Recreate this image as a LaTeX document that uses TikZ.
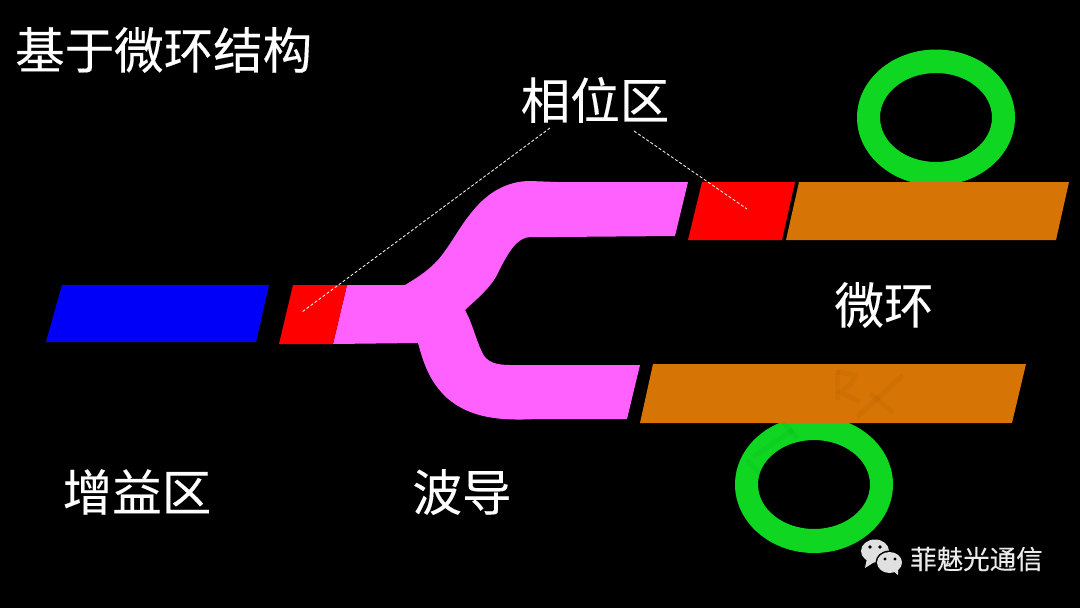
\documentclass[tikz,border=0pt]{standalone}
\usepackage{fontspec}
\setmainfont[FakeBold=0.25]{Noto Sans CJK SC}
\definecolor{gainblue}{rgb}{0.0,0.0,0.98}
\definecolor{phasered}{rgb}{1.0,0.0,0.0}
\definecolor{guidepink}{rgb}{1.0,0.38,1.0}
\definecolor{ringorange}{rgb}{0.84,0.46,0.02}
\definecolor{ringgreen}{rgb}{0.06,0.84,0.13}
\definecolor{logogray}{rgb}{0.88,0.88,0.88}
\usetikzlibrary{positioning, calc}
\tikzset{
  gain/.style={fill=gainblue},
  phase/.style={fill=phasered},
  guide/.style={fill=guidepink},
  coupler/.style={fill=ringorange},
  ring/.style={fill=ringgreen, even odd rule},
  hint/.style={draw=white, line width=0.8pt, dash pattern=on 3pt off 2pt},
  wmark/.style={draw=black, opacity=0.035, line width=5pt},
  biglabel/.style={text=white, inner sep=0pt, font=\fontsize{49.5}{52}\selectfont},
  marklabel/.style={text=white!92!black, inner sep=0pt, font=\fontsize{26.5}{30}\selectfont}
}

\begin{document}
\begin{tikzpicture}[x=1pt, y=-1pt]

  % Background
  \fill[black] (0,0) rectangle (1080,608);
  \useasboundingbox (0,0) rectangle (1080,608);

  % Rings
  \path[ring] (936,117.5) ellipse [x radius=79, y radius=68] (936,117.5) ellipse [x radius=56, y radius=44.5];
  \path[ring] (814,484.5) ellipse [x radius=79, y radius=68.5] (814,484.5) ellipse [x radius=56, y radius=44.5];

  % Gain section
  \path[gain] (62,285) -- (269,285) -- (256,342) -- (46,342) -- cycle;

  % Y-branch waveguide
  \path[guide] (347,285) -- (405,285)
    .. controls (420,276) and (432,268) .. (442,255)
    .. controls (455,238) and (462,222) .. (478,205)
    .. controls (492,190) and (510,181) .. (530,181)
    -- (557,182) -- (688,182) -- (675,236) -- (557,237) -- (530,237)
    .. controls (518,238) and (510,248) .. (497,275)
    .. controls (490,288) and (478,298) .. (465,310)
    .. controls (472,322) and (476,340) .. (482,352)
    .. controls (486,362) and (496,365) .. (510,365)
    -- (640,365) -- (627,419) -- (537,419)
    .. controls (500,421) and (470,418) .. (447,398)
    .. controls (430,382) and (424,365) .. (418,343)
    -- (333,344) -- cycle;

  % Phase sections
  \path[phase] (293,285) -- (347,285) -- (333,344) -- (279,344) -- cycle;
  \path[phase] (702,182) -- (795,182) -- (782,240) -- (688,240) -- cycle;

  % Ring couplers
  \path[coupler] (799,182) -- (1069,182) -- (1056,240) -- (786,240) -- cycle;
  \path[coupler] (653,364) -- (1026,364) -- (1012,423) -- (640,423) -- cycle;

  % Faint watermark strokes
  \draw[wmark] (837,370) -- (837,400);
  \draw[wmark] (837,372) -- (855,375) -- (850,385) -- (840,392) -- (860,402);
  \draw[wmark] (903,375) -- (857,417);
  \draw[wmark] (870,393) -- (893,413);
  \draw[wmark] (783,422) -- (797,438);
  \draw[wmark] (793,430) -- (753,457);
  \draw[wmark] (747,460) -- (760,473);

  % Labels
  \node (title) [biglabel, anchor=west] at (15,50) {基于微环结构};
  \node (phaselabel) [biglabel] at (595,100) {相位区};
  \node (ringlabel) [biglabel] at (884,305) {微环};
  \node (gainlabel) [biglabel] at (137,492) {增益区};
  \node (guidelabel) [biglabel] at (462,492) {波导};

  % Pointers from the phase label
  \coordinate (hintleft) at (550,128);
  \coordinate (hintright) at (634,131);
  \coordinate (phaseleft) at (302,312);
  \coordinate (phaseright) at (747,209);
  \draw[hint] (hintleft) -- (phaseleft);
  \draw[hint] (hintright) -- (phaseright);

  % Account mark
  \fill[logogray] (875,551) ellipse [x radius=14, y radius=11.5];
  \fill[logogray] (867,558) -- (865,568) -- (876,561) -- cycle;
  \fill[black] (889.5,562.5) ellipse [x radius=14, y radius=12];
  \fill[logogray] (889.5,562.5) ellipse [x radius=12.5, y radius=10.5];
  \fill[logogray] (893,571) -- (898,575) -- (898,569) -- cycle;
  \fill[black] (870,547) circle (1.8) (880,547) circle (1.8) (885,559) circle (1.6) (895,559) circle (1.6);
  \node (account) [marklabel, anchor=west] at (910,559) {菲魅光通信};

\end{tikzpicture}
\end{document}
